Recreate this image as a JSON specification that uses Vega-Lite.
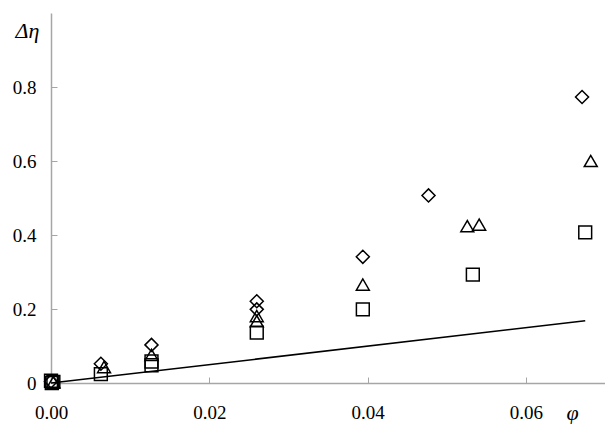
{
  "$schema": "https://vega.github.io/schema/vega-lite/v6.json",
  "width": 554,
  "height": 370,
  "autosize": {"type": "none"},
  "padding": {"left": 51, "top": 13, "right": 0, "bottom": 41},
  "background": "white",
  "config": {
    "view": {"stroke": null},
    "font": "Times New Roman",
    "axis": {
      "grid": false,
      "domainColor": "#a6a6a6",
      "tickColor": "#a6a6a6",
      "domainWidth": 1.5,
      "tickWidth": 1,
      "labelFont": "Times New Roman",
      "labelFontSize": 19,
      "labelColor": "black",
      "labelFlush": false,
      "labelOverlap": false,
      "titleFont": "Times New Roman",
      "titleFontStyle": "italic",
      "titleFontWeight": "normal",
      "titleFontSize": 22,
      "titleColor": "black"
    }
  },
  "layer": [
    {
      "data": {"values": [
        {"phi": 0, "d": 0},
        {"phi": 0.0675, "d": 0.168}
      ]},
      "mark": {"type": "line", "color": "black", "strokeWidth": 1.5},
      "encoding": {
        "x": {"field": "phi", "type": "quantitative", "scale": {"domain": [0, 0.07], "nice": false}},
        "y": {"field": "d", "type": "quantitative", "scale": {"domain": [0, 1.0], "nice": false}}
      }
    },
    {
      "data": {"values": [
        {"phi": 0, "d": 0.004, "s": "diamond"},
        {"phi": 0.0003, "d": 0.002, "s": "triangle"},
        {"phi": 0, "d": 0.006, "s": "square"},
        {"phi": 0.0003, "d": 0.003, "s": "square"},
        {"phi": 0.0001, "d": 0.0, "s": "square"},
        {"phi": 0.0063, "d": 0.052, "s": "diamond"},
        {"phi": 0.0067, "d": 0.043, "s": "triangle"},
        {"phi": 0.0063, "d": 0.024, "s": "square"},
        {"phi": 0.0127, "d": 0.103, "s": "diamond"},
        {"phi": 0.0127, "d": 0.076, "s": "triangle"},
        {"phi": 0.0127, "d": 0.058, "s": "square"},
        {"phi": 0.0127, "d": 0.048, "s": "square"},
        {"phi": 0.026, "d": 0.221, "s": "diamond"},
        {"phi": 0.026, "d": 0.199, "s": "diamond"},
        {"phi": 0.026, "d": 0.181, "s": "triangle"},
        {"phi": 0.026, "d": 0.167, "s": "triangle"},
        {"phi": 0.026, "d": 0.136, "s": "square"},
        {"phi": 0.0394, "d": 0.341, "s": "diamond"},
        {"phi": 0.0394, "d": 0.266, "s": "triangle"},
        {"phi": 0.0394, "d": 0.199, "s": "square"},
        {"phi": 0.0477, "d": 0.507, "s": "diamond"},
        {"phi": 0.0526, "d": 0.424, "s": "triangle"},
        {"phi": 0.0541, "d": 0.428, "s": "triangle"},
        {"phi": 0.0533, "d": 0.293, "s": "square"},
        {"phi": 0.0671, "d": 0.773, "s": "diamond"},
        {"phi": 0.0682, "d": 0.600, "s": "triangle"},
        {"phi": 0.0675, "d": 0.407, "s": "square"}
      ]},
      "mark": {"type": "point", "filled": false, "color": "black", "strokeWidth": 1.5, "opacity": 1},
      "encoding": {
        "x": {
          "field": "phi", "type": "quantitative",
          "scale": {"domain": [0, 0.07], "nice": false},
          "axis": {
            "title": "φ",
            "values": [0, 0.02, 0.04, 0.06],
            "format": ".2f",
            "tickSize": -6,
            "labelPadding": 26,
            "titleAngle": 0,
            "titleX": 521,
            "titleY": 29,
            "titleAlign": "center",
            "titleBaseline": "middle"
          }
        },
        "y": {
          "field": "d", "type": "quantitative",
          "scale": {"domain": [0, 1.0], "nice": false},
          "axis": {
            "title": "Δη",
            "values": [0, 0.2, 0.4, 0.6, 0.8],
            "labelExpr": "datum.value == 0 ? '0' : format(datum.value, '.1f')",
            "tickSize": -6,
            "labelPadding": 21,
            "titleAngle": 0,
            "titleX": -24,
            "titleY": 17,
            "titleAlign": "center",
            "titleBaseline": "middle"
          }
        },
        "shape": {
          "field": "s", "type": "nominal",
          "scale": {"domain": ["diamond", "triangle", "square"], "range": ["diamond", "triangle-up", "square"]},
          "legend": null
        },
        "size": {
          "field": "s", "type": "nominal",
          "scale": {"domain": ["diamond", "triangle", "square"], "range": [170, 165, 150]},
          "legend": null
        }
      }
    }
  ]
}
